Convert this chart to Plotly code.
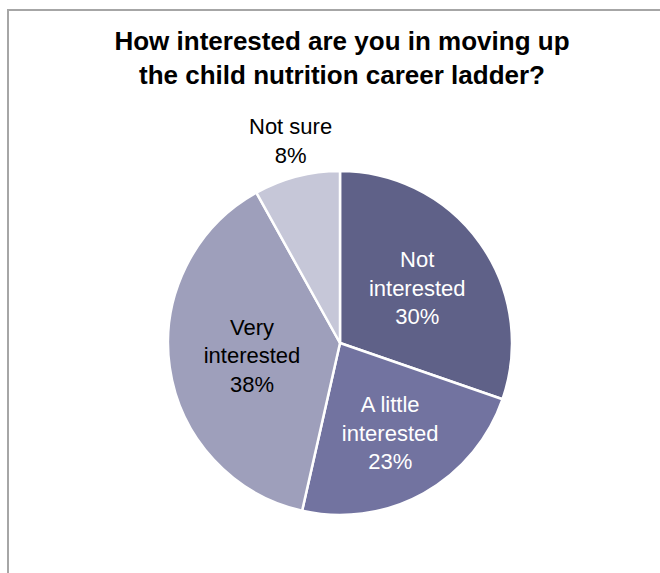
import plotly.graph_objects as go

# Survey responses (share of respondents, %)
labels = ["Not interested", "A little interested", "Very interested", "Not sure"]
values = [30, 23, 38, 8]
colors = ["#5f6188", "#7273a0", "#9e9fbb", "#c6c7d8"]
text_colors = ["white", "white", "black", "black"]
label_text = ["Not<br>interested", "A little<br>interested", "Very<br>interested", "Not sure"]

FONT = "Liberation Sans, Arial, sans-serif"
W, H = 660, 573
# pie bounding box in pixels
px_left, px_right, px_top, px_bottom = 168, 512, 171, 515

# the small slice gets its label above the pie instead of inside
inside = [v >= 10 for v in values]
texts = [f"{t}<br>{v}%" if ok else "" for t, v, ok in zip(label_text, values, inside)]

fig = go.Figure(
    go.Pie(
        labels=labels,
        values=values,
        text=texts,
        textinfo="text",
        textposition="inside",
        insidetextorientation="horizontal",
        sort=False,
        direction="clockwise",
        rotation=0,
        marker=dict(colors=colors, line=dict(color="white", width=2.5)),
        textfont=dict(family=FONT, size=22, color=text_colors),
        showlegend=False,
        hoverinfo="label+percent",
        domain=dict(
            x=[px_left / W, px_right / W],
            y=[1 - px_bottom / H, 1 - px_top / H],
        ),
    )
)

for t, v, ok in zip(label_text, values, inside):
    if not ok:
        fig.add_annotation(
            text=f"{t}<br>{v}%",
            xref="paper",
            yref="paper",
            x=290 / W,
            y=1 - 141 / H,
            xanchor="center",
            yanchor="middle",
            showarrow=False,
            font=dict(family=FONT, size=22, color="black"),
        )

fig.update_layout(
    width=W,
    height=H,
    margin=dict(l=0, r=0, t=0, b=0),
    paper_bgcolor="white",
    title=dict(
        text="<b>How interested are you in moving up<br>the child nutrition career ladder?</b>",
        x=342 / W,
        xanchor="center",
        y=1 - 50 / H,
        yanchor="middle",
        font=dict(family=FONT, size=26, color="black"),
    ),
    shapes=[
        dict(
            type="rect",
            xref="paper",
            yref="paper",
            x0=8 / W,
            x1=1.2,
            y0=-0.2,
            y1=1 - 10 / H,
            line=dict(color="#a6a6a6", width=2),
            layer="below",
        )
    ],
)

fig.write_html("out.html")
